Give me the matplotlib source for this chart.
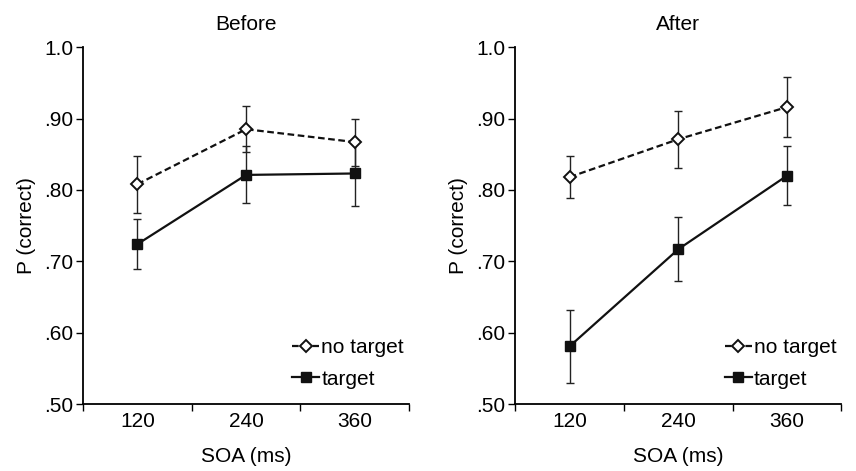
import numpy as np
import matplotlib
matplotlib.use("Agg")
import matplotlib.pyplot as plt

plt.rcParams['font.family'] = ['Liberation Sans', 'DejaVu Sans']

soa_labels = ["120", "240", "360"]
panel_titles = ["Before", "After"]

# P(correct) and error bar half-widths
before_no_target = [0.808, 0.885, 0.867]
before_no_target_err = [0.040, 0.032, 0.033]
before_target = [0.724, 0.821, 0.823]
before_target_err = [0.035, 0.040, 0.046]

after_no_target = [0.818, 0.871, 0.916]
after_no_target_err = [0.030, 0.040, 0.042]
after_target = [0.581, 0.717, 0.820]
after_target_err = [0.051, 0.045, 0.041]

yticks = [0.5, 0.6, 0.7, 0.8, 0.9, 1.0]
ytick_labels = [".50", ".60", ".70", ".80", ".90", "1.0"]

panels = [
    (before_no_target, before_no_target_err, before_target, before_target_err),
    (after_no_target, after_no_target_err, after_target, after_target_err),
]

fig = plt.figure(figsize=(8.56, 4.71), dpi=100)
axes_pos = [[0.097, 0.142, 0.381, 0.758], [0.602, 0.142, 0.381, 0.758]]

x = np.arange(1, len(soa_labels) + 1)
ink = '#111111'

for pos, title, (nt, nt_err, t, t_err) in zip(axes_pos, panel_titles, panels):
    ax = fig.add_axes(pos)
    # error bars first, lines and markers on top
    ax.errorbar(x, nt, yerr=nt_err, fmt='none', ecolor='#222222',
                elinewidth=1.0, capsize=3, capthick=1.0, zorder=2)
    ax.errorbar(x, t, yerr=t_err, fmt='none', ecolor='#222222',
                elinewidth=1.0, capsize=3, capthick=1.0, zorder=2)
    ax.plot(x, nt, color=ink, linestyle=(0, (3, 1.6)), linewidth=1.6,
            marker='D', markersize=6, markerfacecolor='white',
            markeredgecolor=ink, markeredgewidth=1.4, label='no target', zorder=3)
    ax.plot(x, t, color=ink, linestyle='-', linewidth=1.6,
            marker='s', markersize=7, markerfacecolor=ink,
            markeredgecolor=ink, label='target', zorder=3)

    ax.set_xlim(0.5, 3.5)
    ax.set_ylim(0.5, 1.0)
    ax.set_yticks(yticks)
    ax.set_yticklabels(ytick_labels)
    ax.set_xticks(x)
    ax.set_xticklabels(soa_labels)
    ax.set_xticks([0.5, 1.5, 2.5, 3.5], minor=True)
    ax.tick_params(axis='x', which='major', length=0, pad=6, labelsize=15)
    ax.tick_params(axis='x', which='minor', length=5, width=1.0, direction='out')
    ax.tick_params(axis='y', length=5, width=1.0, direction='out', labelsize=15, pad=2)

    for side in ['top', 'right']:
        ax.spines[side].set_visible(False)
    for side in ['left', 'bottom']:
        ax.spines[side].set_linewidth(1.3)

    ax.set_title(title, fontsize=15, pad=12)
    ax.set_xlabel('SOA (ms)', fontsize=15, labelpad=11)
    ax.set_ylabel('P (correct)', fontsize=15, labelpad=6)

    ax.legend(loc='lower right', frameon=False, fontsize=15, handlelength=1.3,
              handletextpad=0.1, borderaxespad=0.0, labelspacing=0.6,
              bbox_to_anchor=(1.01, 0.02))

fig.savefig('out.png', dpi=100)
